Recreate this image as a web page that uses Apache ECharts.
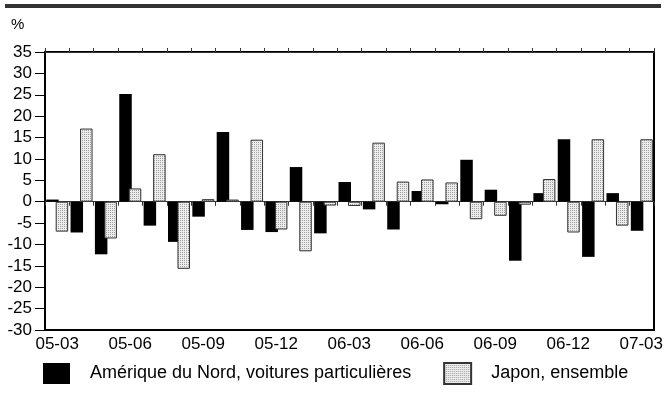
<!DOCTYPE html>
<html>
<head>
<meta charset="utf-8">
<script src="https://cdn.jsdelivr.net/npm/echarts@6/dist/echarts.min.js"></script>
<style>
  html, body { margin: 0; padding: 0; background: #fff; }
  #chart { width: 666px; height: 400px; }
</style>
</head>
<body>
<div id="chart"></div>
<script>
// mois (aa-mm)
const months = ['05-03','05-04','05-05','05-06','05-07','05-08','05-09','05-10','05-11','05-12','06-01','06-02',
                '06-03','06-04','06-05','06-06','06-07','06-08','06-09','06-10','06-11','06-12','07-01','07-02','07-03'];
// Amérique du Nord, voitures particulières (%)
const amerique = [0.5, -7.2, -12.3, 25.2, -5.6, -9.4, -3.5, 16.3, -6.6, -7.1, 8.1, -7.4,
                  4.6, -1.8, -6.5, 2.5, -0.6, 9.8, 2.8, -13.8, 2.0, 14.6, -12.9, 2.0, -6.8];
// Japon, ensemble (%)
const japon = [-7.0, 17.1, -8.6, 3.1, 11.1, -15.7, 0.6, 0.5, 14.5, -6.5, -11.6, -0.9,
               -1.0, 13.8, 4.7, 5.2, 4.5, -4.1, -3.3, -0.7, 5.3, -7.2, 14.6, -5.6, 14.6];
const yMin = -30, yMax = 35, yStep = 5;

// motif pointillé pour les barres du Japon
function dotPattern() {
  const c = document.createElement('canvas');
  c.width = 2; c.height = 2;
  const ctx = c.getContext('2d');
  ctx.fillStyle = '#ececec';
  ctx.fillRect(0, 0, 2, 2);
  ctx.fillStyle = '#a0a0a0';
  ctx.fillRect(0, 0, 1, 1);
  return c;
}

const font = 'Liberation Sans, Arial, sans-serif';
const grid = { left: 45, right: 12, top: 52, bottom: 70 };

const chart = echarts.init(document.getElementById('chart'));
chart.setOption({
  animation: false,
  textStyle: { fontFamily: font },
  title: {
    text: '%', left: 6, top: 12,
    textStyle: { fontSize: 15, fontWeight: 'normal', color: '#000', fontFamily: font }
  },
  graphic: [{
    type: 'rect', shape: { x: 5, y: 4, width: 656, height: 4 },
    style: { fill: '#333' }, silent: true
  }],
  legend: {
    left: 43, top: 362, padding: 0,
    icon: 'rect',
    itemWidth: 27, itemHeight: 21, itemGap: 32,
    textStyle: { fontSize: 18, color: '#000', fontFamily: font, padding: [0, 0, 0, 15] },
    data: ['Amérique du Nord, voitures particulières', 'Japon, ensemble']
  },
  grid: [
    Object.assign({ show: true, borderColor: '#000', borderWidth: 2 }, grid),
    Object.assign({}, grid)
  ],
  xAxis: [
    { // ligne du zéro, graduations vers le bas
      type: 'category', data: months, gridIndex: 0, position: 'bottom',
      axisLine: { onZero: true, lineStyle: { color: '#333', width: 1 } },
      axisTick: { show: true, interval: 0, length: 4, lineStyle: { color: '#333' } },
      axisLabel: { show: false }
    },
    { // ligne du zéro, graduations vers le haut
      type: 'category', data: months, gridIndex: 0, position: 'top',
      axisLine: { onZero: true, lineStyle: { color: '#333', width: 1 } },
      axisTick: { show: true, interval: 0, length: 4, lineStyle: { color: '#333' } },
      axisLabel: { show: false }
    },
    { // étiquettes du bas
      type: 'category', data: months, gridIndex: 1, position: 'bottom',
      axisLine: { show: false, onZero: false },
      axisTick: { show: false },
      axisLabel: { interval: 2, fontSize: 17, color: '#000', margin: 6, fontFamily: font }
    }
  ],
  yAxis: [
    {
      type: 'value', gridIndex: 0, min: yMin, max: yMax, interval: yStep,
      axisLine: { show: true, lineStyle: { color: '#000', width: 2 } },
      axisTick: { show: true, length: 10, lineStyle: { color: '#000', width: 1 } },
      axisLabel: { fontSize: 17, color: '#000', margin: 13, fontFamily: font },
      splitLine: { show: false }
    },
    {
      type: 'value', gridIndex: 1, min: yMin, max: yMax, interval: yStep,
      show: false
    }
  ],
  series: [
    {
      name: 'Amérique du Nord, voitures particulières',
      type: 'bar', xAxisIndex: 0, yAxisIndex: 0,
      data: amerique,
      barWidth: 12.5, barGap: '-24%',
      itemStyle: { color: '#000' }
    },
    {
      name: 'Japon, ensemble',
      type: 'bar', xAxisIndex: 0, yAxisIndex: 0,
      data: japon,
      barWidth: 12.5, barGap: '-24%',
      itemStyle: {
        color: { image: dotPattern(), repeat: 'repeat' },
        borderColor: '#333', borderWidth: 1
      }
    }
  ]
});
</script>
</body>
</html>
